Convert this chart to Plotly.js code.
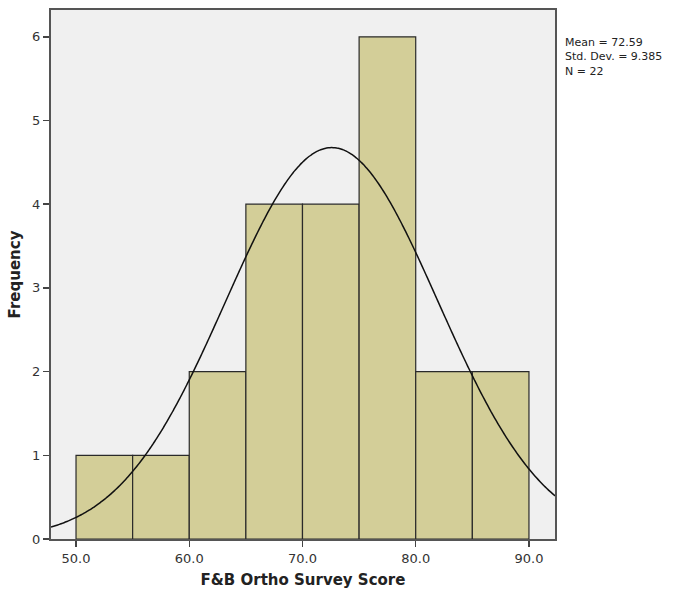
<!DOCTYPE html>
<html>
<head>
<meta charset="utf-8">
<script src="https://cdn.plot.ly/plotly-3.0.1.min.js"></script>
<style>html,body{margin:0;padding:0;background:#fff;}#chart{width:674px;height:594px;}</style>
</head>
<body>
<div id="chart"></div>
<script>
// Histogram bins (lower edge) and counts
const binStarts = [50, 55, 60, 65, 70, 75, 80, 85];
const binWidth = 5;
const counts = [1, 1, 2, 4, 4, 6, 2, 2];
// Summary statistics
const mean = 72.59;
const stdDev = 9.385;
const n = 22;
const xTicks = [50, 60, 70, 80, 90];
const xTickLabels = ["50.0", "60.0", "70.0", "80.0", "90.0"];
const yTicks = [0, 1, 2, 3, 4, 5, 6];

const xRange = [47.79, 92.3];
const yRange = [0, 6.32];

const centers = binStarts.map(b => b + binWidth / 2);

// Fitted normal curve, scaled to counts
const curveX = [], curveY = [];
for (let i = 0; i <= 300; i++) {
  const x = xRange[0] + (xRange[1] - xRange[0]) * i / 300;
  const z = (x - mean) / stdDev;
  curveX.push(x);
  curveY.push(n * binWidth * Math.exp(-0.5 * z * z) / (stdDev * Math.sqrt(2 * Math.PI)));
}

const font = "DejaVu Sans, sans-serif";

const data = [
  {
    type: "bar", x: centers, y: counts, width: binWidth,
    marker: {color: "#d3ce98", line: {color: "#2a2a2a", width: 1.2}},
    hoverinfo: "skip", showlegend: false
  },
  {
    type: "scatter", mode: "lines", x: curveX, y: curveY,
    line: {color: "#111", width: 1.5, shape: "spline"}, hoverinfo: "skip", showlegend: false
  }
];

const layout = {
  width: 674, height: 594,
  margin: {l: 51, r: 119, t: 10, b: 55},
  paper_bgcolor: "#ffffff",
  plot_bgcolor: "#f0f0f0",
  bargap: 0,
  font: {family: font, size: 12, color: "#333"},
  xaxis: {
    range: xRange, tickvals: xTicks, ticktext: xTickLabels,
    showgrid: false, zeroline: false,
    showline: true, mirror: true, linecolor: "#555", linewidth: 2,
    ticks: "outside", ticklen: 6, tickwidth: 1.5, tickcolor: "#444",
    tickfont: {family: font, size: 13, color: "#333"},
    title: {text: "<b>F&amp;B Ortho Survey Score</b>", font: {family: font, size: 15, color: "#222"}, standoff: 10}
  },
  yaxis: {
    range: yRange, tickvals: yTicks,
    showgrid: false, zeroline: false,
    showline: true, mirror: true, linecolor: "#555", linewidth: 2,
    ticks: "outside", ticklen: 6, tickwidth: 1.5, tickcolor: "#444",
    tickfont: {family: font, size: 13, color: "#333"},
    title: {text: "<b>Frequency</b>", font: {family: font, size: 15, color: "#222"}, standoff: 8}
  },
  annotations: [{
    xref: "paper", yref: "paper", x: 1.016, y: 0.955,
    xanchor: "left", yanchor: "top", align: "left", showarrow: false,
    text: "Mean = " + mean.toFixed(2) + "<br>Std. Dev. = " + stdDev.toFixed(3) + "<br>N = " + n,
    font: {family: font, size: 11, color: "#222"}
  }]
};

Plotly.newPlot("chart", data, layout, {displayModeBar: false, staticPlot: true});
</script>
</body>
</html>
